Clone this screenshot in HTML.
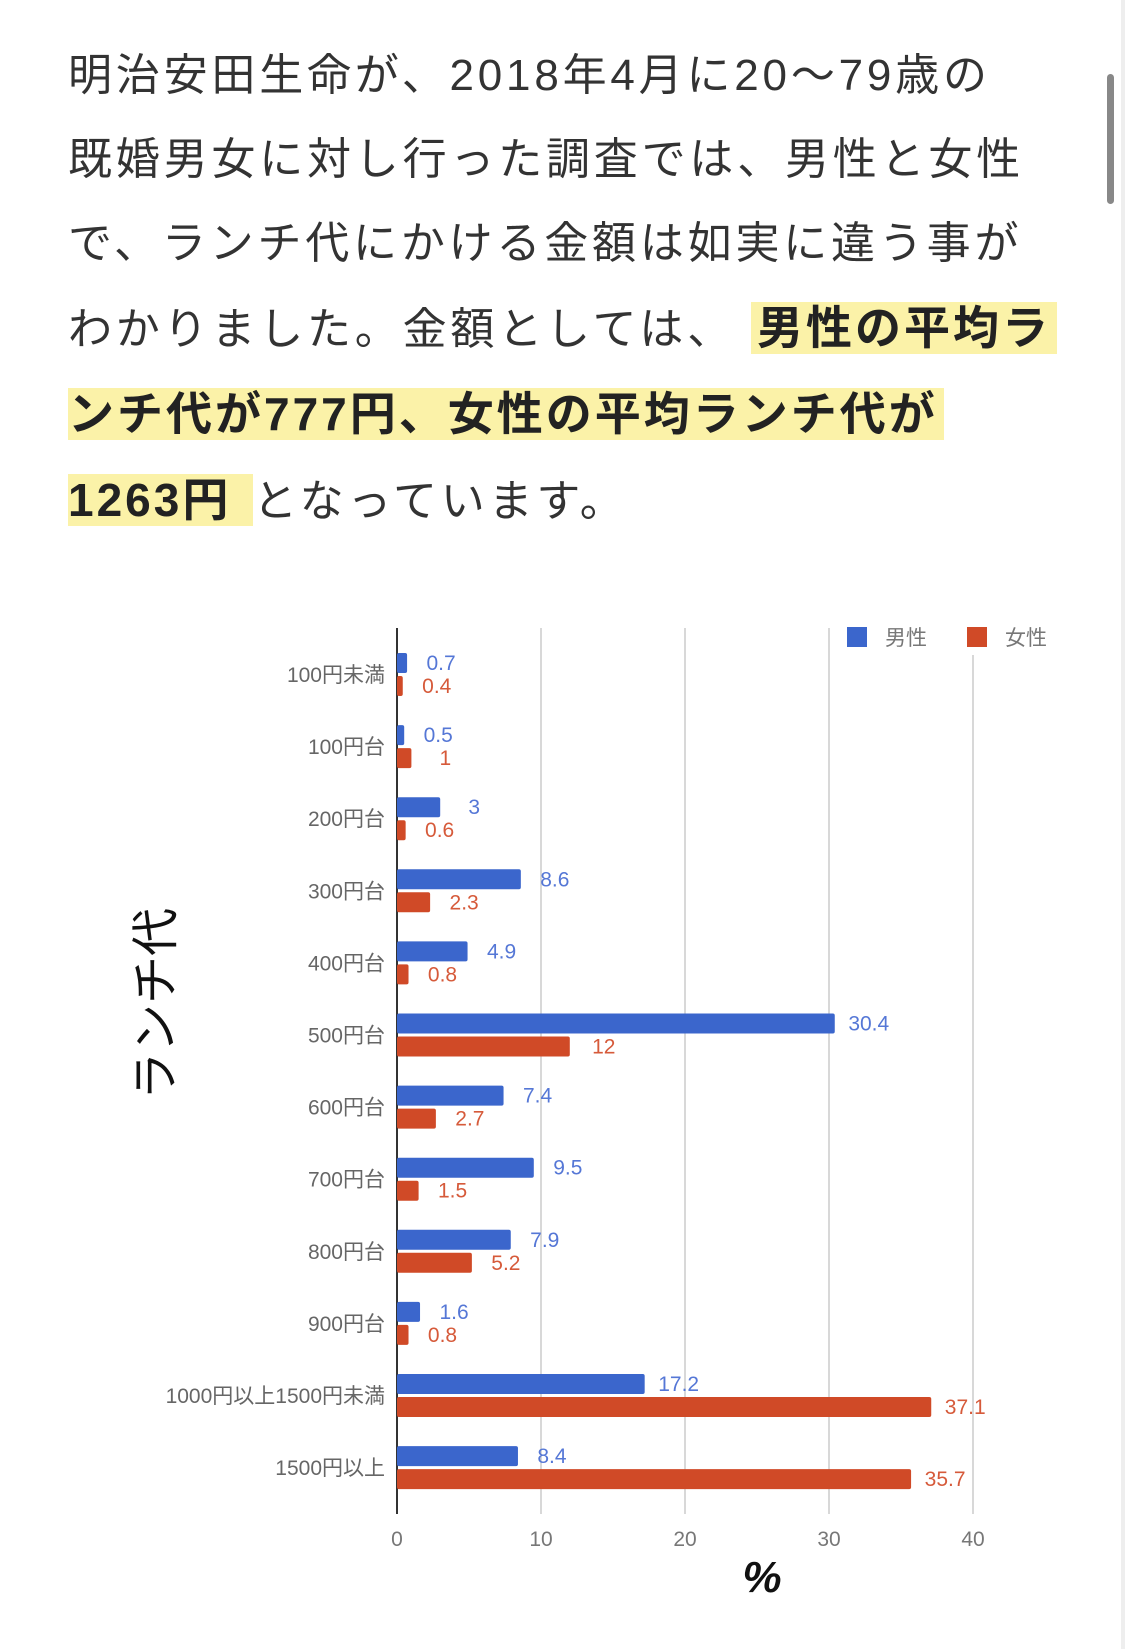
<!DOCTYPE html>
<html><head><meta charset="utf-8"><style>
body{margin:0;width:1125px;height:1649px;background:#fff;overflow:hidden;position:relative;font-family:"Liberation Sans","Noto Sans CJK JP",sans-serif}
.txt{position:absolute;left:68px;top:34px;width:1060px;font-size:44px;line-height:84px;color:#333;letter-spacing:3.8px;white-space:nowrap}
.hl{background:#fbf2a8;font-weight:bold;color:#222;padding:0 6px;font-size:46px;letter-spacing:3px}
.sb{position:absolute;left:1107px;top:74px;width:7px;height:130px;border-radius:4px;background:#888}
.edge{position:absolute;right:0;top:0;width:4px;height:1649px;background:#eee}
</style></head><body>
<div class="edge"></div>
<div class="txt">明治安田生命が、2018年4月に20〜79歳の<br>既婚男女に対し行った調査では、男性と女性<br>で、ランチ代にかける金額は如実に違う事が<br>わかりました。金額としては、 <span class="hl">男性の平均ラ</span><br><span class="hl" style="padding-left:0">ンチ代が777円、女性の平均ランチ代が</span><br><span class="hl" style="padding-left:0">1263円 </span> となっています。</div>
<div class="sb"></div>
<svg width="1125" height="1649" style="position:absolute;left:0;top:0" font-family="Liberation Sans, Noto Sans CJK JP, sans-serif">
<g stroke="#ccc" stroke-width="1.5">
<line x1="541" y1="628" x2="541" y2="1514"/><line x1="685" y1="628" x2="685" y2="1514"/><line x1="829" y1="628" x2="829" y2="1514"/><line x1="973" y1="655" x2="973" y2="1514"/>
</g>
<line x1="397" y1="628" x2="397" y2="1514" stroke="#333" stroke-width="2"/>
<rect x="847" y="627" width="20" height="20" fill="#3b66cc"/><text x="885" y="645" font-size="21" fill="#777">男性</text>
<rect x="967" y="627" width="20" height="20" fill="#d04a27"/><text x="1005" y="645" font-size="21" fill="#777">女性</text>
<g font-size="21" fill="#666" text-anchor="end" id="cats"></g>
<g id="bars"></g>
<g font-size="21" fill="#777" text-anchor="middle">
<text x="397" y="1546">0</text><text x="541" y="1546">10</text><text x="685" y="1546">20</text><text x="829" y="1546">30</text><text x="973" y="1546">40</text>
</g>
<text x="762" y="1592" font-size="44" font-weight="bold" font-style="italic" text-anchor="middle" fill="#111">%</text>
<text transform="translate(172,1004) rotate(-90)" font-size="48" text-anchor="middle" fill="#111">ランチ代</text>
</svg>
<script>
var cats=["100円未満","100円台","200円台","300円台","400円台","500円台","600円台","700円台","800円台","900円台","1000円以上1500円未満","1500円以上"];
var m=[0.7,0.5,3,8.6,4.9,30.4,7.4,9.5,7.9,1.6,17.2,8.4],f=[0.4,1,0.6,2.3,0.8,12,2.7,1.5,5.2,0.8,37.1,35.7];
var ns="http://www.w3.org/2000/svg",c=document.getElementById("cats"),b=document.getElementById("bars");
function el(t,a,txt,p){var e=document.createElementNS(ns,t);for(var k in a)e.setAttribute(k,a[k]);if(txt!=null)e.textContent=txt;p.appendChild(e);}
for(var i=0;i<12;i++){var cy=674+i*72.1;
el("text",{x:385,y:cy+8},cats[i],c);
var wm=m[i]*14.4,wf=f[i]*14.4;
el("rect",{x:397,y:cy-21,width:Math.max(wm,4),height:20,rx:2,fill:"#3b66cc"},null,b);
el("rect",{x:397,y:cy+2,width:Math.max(wf,4),height:20,rx:2,fill:"#d04a27"},null,b);
el("text",{x:397+wm+34,y:cy-4,"font-size":21,fill:"#5577d6","text-anchor":"middle"},String(m[i]),b);
el("text",{x:397+wf+34,y:cy+19,"font-size":21,fill:"#d65a3a","text-anchor":"middle"},String(f[i]),b);}
</script>
</body></html>
